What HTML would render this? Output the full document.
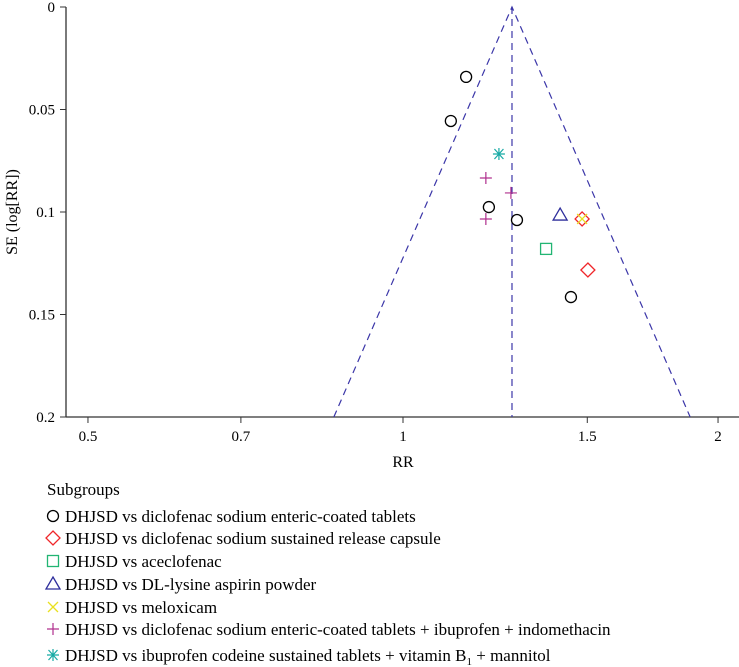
<!DOCTYPE html>
<html><head><meta charset="utf-8"><style>
body{margin:0;background:#fff}
svg{display:block;font-family:"Liberation Serif",serif}
</style></head><body>
<svg id="c" width="739" height="667"></svg>
<script>
const circleRR=[1.149,1.111,1.208,1.285,1.447];
const circleSE=[0.0341,0.0556,0.0976,0.1039,0.1415];
const diamondRR=[1.483,1.502];
const diamondSE=[0.1034,0.1283];
const squareRR=[1.370];
const squareSE=[0.118];
const triangleRR=[1.413];
const triangleSE=[0.1015];
const crossRR=[1.483];
const crossSE=[0.1034];
const plusRR=[1.200,1.268,1.200];
const plusSE=[0.0834,0.0907,0.1034];
const starRR=[1.235];
const starSE=[0.0717];
const pooledRR=1.271;
const xTicks=[0.5,0.7,1,1.5,2];
const yTicks=[0,0.05,0.1,0.15,0.2];
const legendLabels=["DHJSD vs diclofenac sodium enteric-coated tablets","DHJSD vs diclofenac sodium sustained release capsule","DHJSD vs aceclofenac","DHJSD vs DL-lysine aspirin powder","DHJSD vs meloxicam","DHJSD vs diclofenac sodium enteric-coated tablets + ibuprofen + indomethacin","DHJSD vs ibuprofen codeine sustained tablets + vitamin B<tspan font-size='11' dy='4'>1</tspan><tspan dy='-4'> + mannitol</tspan>"];

const svg=document.getElementById('c');
const NS='http://www.w3.org/2000/svg';
const X=v=>403+454.5*Math.log(v);
const Y=v=>7+2050*v;
function el(t,a,p){const e=document.createElementNS(NS,t);for(const k in a)e.setAttribute(k,a[k]);(p||svg).appendChild(e);return e;}
const ax=el('g',{});


el('line',{x1:66,y1:7,x2:66,y2:417,stroke:'#333','stroke-width':1.3},ax);
el('line',{x1:66,y1:417,x2:739,y2:417,stroke:'#333','stroke-width':1.3},ax);
yTicks.forEach(t=>{const y=Y(t);el('line',{x1:60,y1:y,x2:66,y2:y,stroke:'#333'},ax);
 const tx=el('text',{x:55,y:y+5,'text-anchor':'end','font-size':15},ax);tx.textContent=t;
 
 });
xTicks.forEach(t=>{const x=X(t);el('line',{x1:x,y1:417,x2:x,y2:423,stroke:'#333'},ax);
 const tx=el('text',{x:x,y:441,'text-anchor':'middle','font-size':15},ax);tx.textContent=t;
 
 });
const xt=el('text',{x:403,y:467,'text-anchor':'middle','font-size':16});xt.textContent='RR';


const yt=el('text',{x:17,y:212,'text-anchor':'middle','font-size':16,transform:'rotate(-90 17 212)'});yt.textContent='SE (log[RR])';


const px=X(pooledRR);
const fl=el('path',{d:`M${X(pooledRR*Math.exp(-1.96*0.2))},${Y(0.2)}L${px},${Y(0)}L${X(pooledRR*Math.exp(1.96*0.2))},${Y(0.2)}`,fill:'none',stroke:'#3b36a8','stroke-width':1.2,'stroke-dasharray':'7,5'});


const pl=el('line',{x1:px,y1:Y(0),x2:px,y2:Y(0.2),stroke:'#3b36a8','stroke-width':1.2,'stroke-dasharray':'7,5'});


function mark(type,x,y,p){
 const g=el('g',{},p);
 if(type==='circle')el('circle',{cx:x,cy:y,r:5.5,fill:'none',stroke:'#000','stroke-width':1.3},g);
 if(type==='diamond')el('path',{d:`M${x},${y-7}L${x+7},${y}L${x},${y+7}L${x-7},${y}Z`,fill:'none',stroke:'#f0262a','stroke-width':1.3},g);
 if(type==='square')el('rect',{x:x-5.5,y:y-5.5,width:11,height:11,fill:'none',stroke:'#22b573','stroke-width':1.3},g);
 if(type==='triangle')el('path',{d:`M${x},${y-7}L${x+7},${y+5}L${x-7},${y+5}Z`,fill:'none',stroke:'#2e2e9c','stroke-width':1.3},g);
 if(type==='cross')el('path',{d:`M${x-5},${y-5}L${x+5},${y+5}M${x+5},${y-5}L${x-5},${y+5}`,stroke:'#e8e020','stroke-width':1.3},g);
 if(type==='plus')el('path',{d:`M${x-6},${y}L${x+6},${y}M${x},${y-6}L${x},${y+6}`,stroke:'#b0308e','stroke-width':1.2},g);
 if(type==='star')el('path',{d:`M${x-6},${y}L${x+6},${y}M${x-4.5},${y-5}L${x+4.5},${y+5}M${x+4.5},${y-5}L${x-4.5},${y+5}M${x},${y-6}L${x},${y+6}`,stroke:'#18aaa5','stroke-width':1.2},g);
 return g;}
const series=[['circle',circleRR,circleSE],['diamond',diamondRR,diamondSE],['square',squareRR,squareSE],['triangle',triangleRR,triangleSE],['cross',crossRR,crossSE],['plus',plusRR,plusSE],['star',starRR,starSE]];
series.forEach(([t,rr,se])=>rr.forEach((v,i)=>{const m=mark(t,X(v),Y(se[i]));
 
 }));
const lg=el('g',{});


const lt=el('text',{x:47,y:495,'font-size':17},lg);lt.textContent='Subgroups';
const ly=[516,538,561,584,607,629,655];
series.forEach(([t],i)=>{const g=el('g',{},lg);
 
 
 mark(t,53,ly[i],g);
 const tx=el('text',{x:65,y:ly[i]+6,'font-size':17},g);tx.innerHTML=legendLabels[i];});
</script>
</body></html>
